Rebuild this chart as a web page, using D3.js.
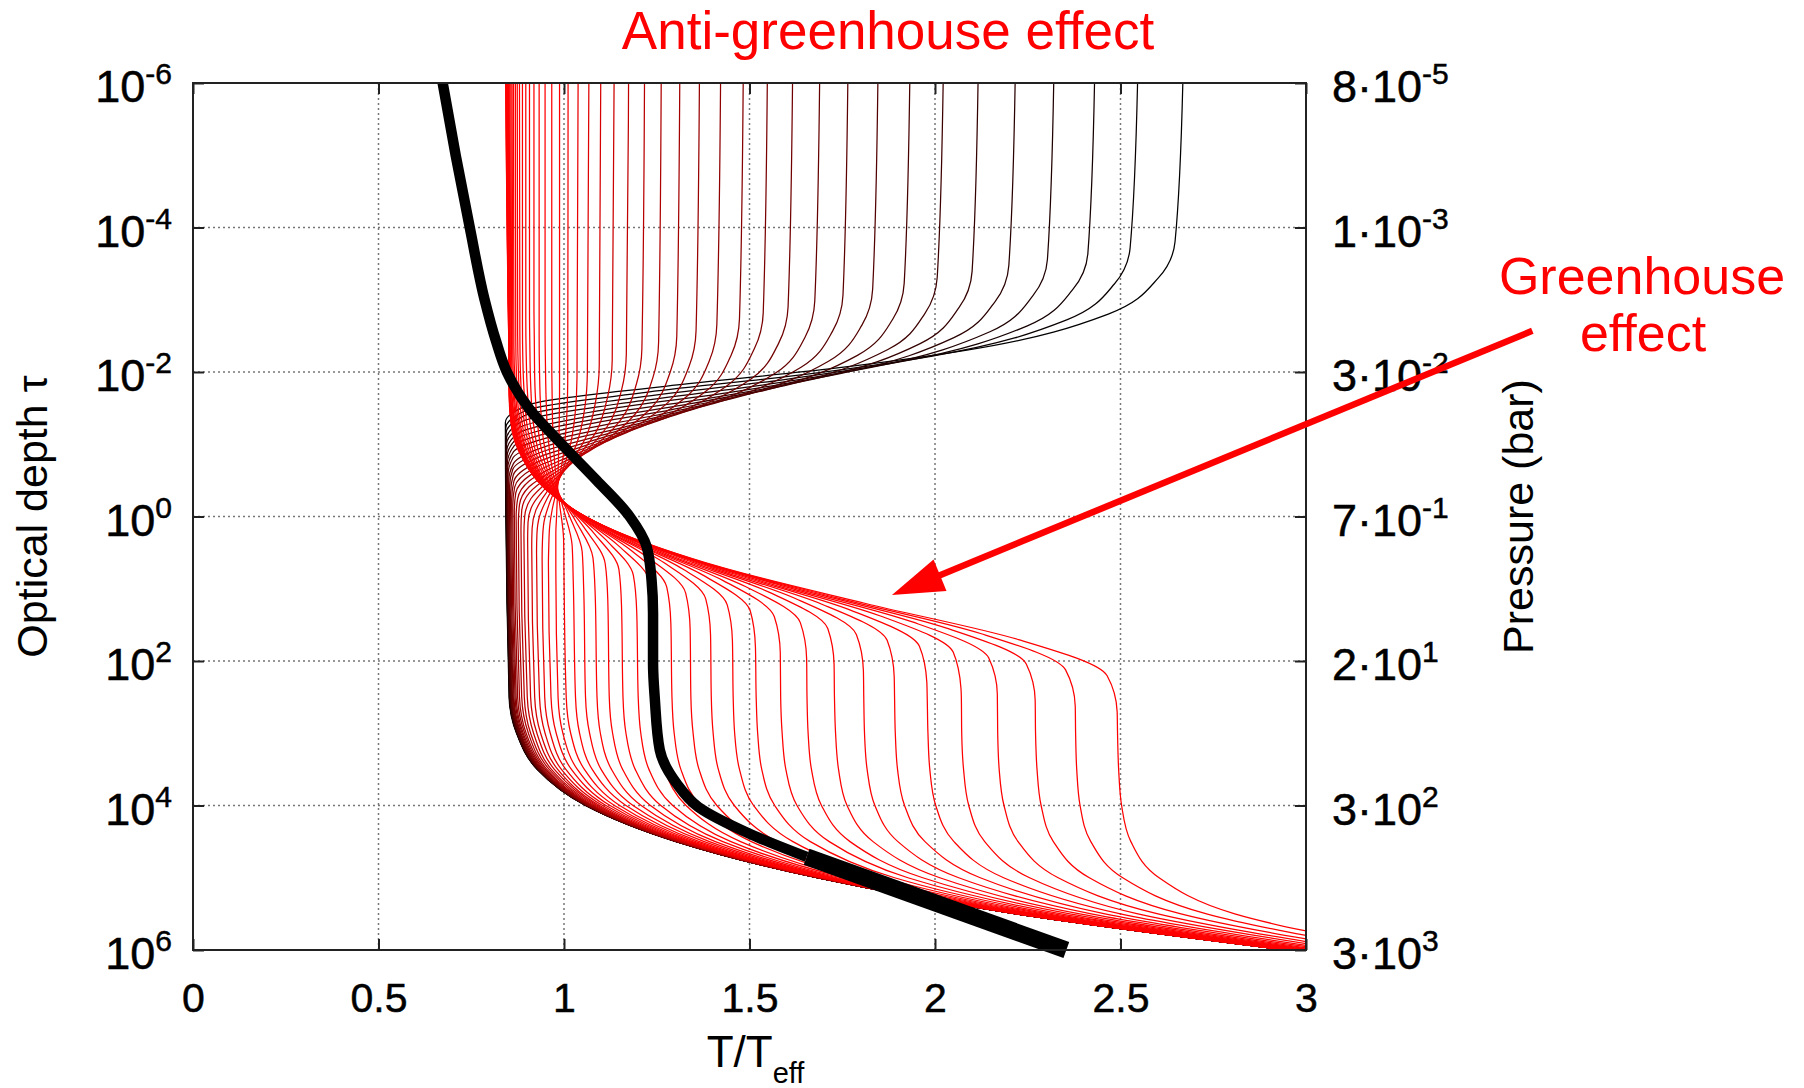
<!DOCTYPE html>
<html>
<head>
<meta charset="utf-8">
<script src="https://d3js.org/d3.v7.min.js"></script>
<style>
  body { margin: 0; background: #fff; }
  svg { display: block; }
  text { font-family: "Liberation Sans", Arial, Helvetica, sans-serif; }
</style>
</head>
<body>
<div id="chart"></div>
<script>
// T/Teff profiles versus optical depth, one thin line per opacity ratio.
// Curves 0..23 heat up at depth (greenhouse, red), 24..49 are hot on top (anti-greenhouse, dark).

// T at the top of the plot (tau = 1e-6) for each curve
var topT = [0.843, 0.843, 0.844, 0.845, 0.845, 0.846, 0.847, 0.849, 0.850, 0.852,
            0.854, 0.857, 0.860, 0.864, 0.869, 0.874, 0.880, 0.888, 0.897, 0.907,
            0.919, 0.933, 0.949, 0.967, 0.988, 1.011, 1.038, 1.067, 1.099, 1.135,
            1.174, 1.217, 1.262, 1.312, 1.365, 1.422, 1.483, 1.548, 1.616, 1.689,
            1.765, 1.846, 1.932, 2.022, 2.116, 2.216, 2.320, 2.430, 2.546, 2.668];

// log10(tau) at the middle of each curve's turn
var turnLog = [1.704, 1.623, 1.541, 1.459, 1.377, 1.296, 1.214, 1.132, 1.050, 0.969,
               0.887, 0.805, 0.723, 0.641, 0.560, 0.478, 0.396, 0.314, 0.233, 0.151,
               0.069, -0.013, -0.094, -0.176, -0.258, -0.340, -0.422, -0.503, -0.585, -0.667,
               -0.749, -0.830, -0.912, -0.994, -1.076, -1.158, -1.239, -1.321, -1.403, -1.485,
               -1.566, -1.648, -1.730, -1.812, -1.893, -1.975, -2.057, -2.139, -2.221, -2.302];

// decades from turnLog where the turn is sampled
var riseSteps = [-3, -2.5, -2, -1.5, -1, -0.5, 0, 0.5, 1];
var fallSteps = [-1.5, -1, -0.5, 0, 0.25, 0.5, 0.75, 1];

// T along the turn, red curves (rising to a hot plateau)
var riseT = [
  [0.858, 0.889, 0.969, 1.140, 1.425, 1.813, 2.225, 2.464, 2.491],
  [0.856, 0.882, 0.951, 1.104, 1.368, 1.733, 2.125, 2.352, 2.378],
  [0.855, 0.876, 0.936, 1.071, 1.314, 1.658, 2.029, 2.246, 2.270],
  [0.853, 0.872, 0.922, 1.042, 1.265, 1.588, 1.939, 2.145, 2.168],
  [0.853, 0.868, 0.911, 1.016, 1.219, 1.521, 1.853, 2.049, 2.070],
  [0.852, 0.865, 0.901, 0.993, 1.177, 1.459, 1.772, 1.958, 1.978],
  [0.852, 0.863, 0.893, 0.973, 1.139, 1.400, 1.695, 1.871, 1.890],
  [0.853, 0.861, 0.887, 0.956, 1.104, 1.345, 1.622, 1.788, 1.807],
  [0.854, 0.861, 0.882, 0.941, 1.072, 1.293, 1.554, 1.711, 1.728],
  [0.855, 0.861, 0.879, 0.928, 1.044, 1.246, 1.489, 1.637, 1.654],
  [0.857, 0.861, 0.876, 0.918, 1.019, 1.202, 1.429, 1.567, 1.583],
  [0.859, 0.863, 0.875, 0.910, 0.998, 1.163, 1.372, 1.502, 1.516],
  [0.862, 0.865, 0.875, 0.904, 0.979, 1.126, 1.319, 1.440, 1.454],
  [0.865, 0.868, 0.876, 0.901, 0.964, 1.094, 1.270, 1.382, 1.395],
  [0.870, 0.872, 0.878, 0.898, 0.952, 1.065, 1.224, 1.328, 1.340],
  [0.875, 0.877, 0.882, 0.898, 0.943, 1.040, 1.183, 1.277, 1.288],
  [0.881, 0.882, 0.887, 0.900, 0.936, 1.019, 1.145, 1.231, 1.241],
  [0.888, 0.889, 0.893, 0.903, 0.933, 1.002, 1.111, 1.187, 1.196],
  [0.897, 0.898, 0.901, 0.909, 0.932, 0.988, 1.081, 1.148, 1.155],
  [0.907, 0.908, 0.910, 0.916, 0.934, 0.979, 1.054, 1.111, 1.118],
  [0.919, 0.920, 0.921, 0.926, 0.939, 0.972, 1.032, 1.078, 1.084],
  [0.933, 0.933, 0.934, 0.937, 0.946, 0.970, 1.014, 1.049, 1.053],
  [0.949, 0.949, 0.950, 0.952, 0.957, 0.971, 0.999, 1.022, 1.025],
  [0.967, 0.967, 0.967, 0.968, 0.970, 0.976, 0.988, 0.999, 1.000]
];

// T along the turn, dark curves (falling back to the cool branch)
var fallT = [
  [0.988, 0.987, 0.985, 0.982, 0.980, 0.978, 0.978, 0.978],
  [1.010, 1.007, 0.998, 0.979, 0.968, 0.961, 0.959, 0.958],
  [1.035, 1.030, 1.014, 0.980, 0.960, 0.946, 0.942, 0.941],
  [1.063, 1.056, 1.034, 0.985, 0.955, 0.934, 0.927, 0.926],
  [1.095, 1.085, 1.058, 0.994, 0.953, 0.924, 0.914, 0.913],
  [1.130, 1.118, 1.086, 1.007, 0.955, 0.916, 0.903, 0.902],
  [1.168, 1.155, 1.117, 1.024, 0.960, 0.911, 0.894, 0.892],
  [1.210, 1.195, 1.152, 1.045, 0.968, 0.907, 0.886, 0.884],
  [1.255, 1.239, 1.191, 1.070, 0.980, 0.906, 0.880, 0.877],
  [1.304, 1.286, 1.234, 1.098, 0.995, 0.907, 0.875, 0.871],
  [1.356, 1.337, 1.280, 1.131, 1.013, 0.910, 0.870, 0.866],
  [1.412, 1.392, 1.330, 1.167, 1.036, 0.915, 0.867, 0.862],
  [1.473, 1.451, 1.384, 1.207, 1.061, 0.923, 0.865, 0.859],
  [1.537, 1.513, 1.442, 1.251, 1.091, 0.932, 0.863, 0.856],
  [1.604, 1.579, 1.504, 1.299, 1.123, 0.945, 0.862, 0.853],
  [1.676, 1.650, 1.570, 1.350, 1.160, 0.959, 0.864, 0.851],
  [1.752, 1.724, 1.639, 1.405, 1.200, 0.977, 0.863, 0.849],
  [1.832, 1.803, 1.713, 1.465, 1.244, 0.997, 0.864, 0.848],
  [1.917, 1.886, 1.791, 1.528, 1.291, 1.020, 0.866, 0.847],
  [2.006, 1.973, 1.873, 1.595, 1.342, 1.046, 0.869, 0.846],
  [2.100, 2.065, 1.960, 1.666, 1.397, 1.075, 0.873, 0.845],
  [2.199, 2.162, 2.051, 1.741, 1.456, 1.108, 0.878, 0.844],
  [2.303, 2.264, 2.148, 1.821, 1.519, 1.144, 0.884, 0.844],
  [2.412, 2.371, 2.249, 1.905, 1.585, 1.183, 0.891, 0.843],
  [2.526, 2.484, 2.355, 1.993, 1.656, 1.226, 0.899, 0.843],
  [2.647, 2.602, 2.467, 2.086, 1.731, 1.273, 0.910, 0.842]
];

// deep part, all curves
var deepLog = [2.5, 3, 3.5, 4, 4.5, 5, 5.5, 6];
var deepT = [
  [2.491, 2.492, 2.495, 2.503, 2.528, 2.604, 2.808, 3.264],
  [2.378, 2.379, 2.382, 2.391, 2.420, 2.506, 2.732, 3.216],
  [2.270, 2.271, 2.275, 2.286, 2.319, 2.416, 2.663, 3.174],
  [2.168, 2.169, 2.173, 2.186, 2.224, 2.332, 2.601, 3.139],
  [2.071, 2.072, 2.077, 2.091, 2.134, 2.255, 2.547, 3.109],
  [1.979, 1.981, 1.986, 2.002, 2.051, 2.185, 2.500, 3.083],
  [1.891, 1.893, 1.899, 1.918, 1.973, 2.122, 2.458, 3.061],
  [1.808, 1.810, 1.817, 1.838, 1.900, 2.064, 2.421, 3.042],
  [1.729, 1.732, 1.740, 1.763, 1.833, 2.013, 2.390, 3.027],
  [1.655, 1.658, 1.667, 1.694, 1.771, 1.967, 2.363, 3.014],
  [1.584, 1.588, 1.598, 1.628, 1.715, 1.927, 2.340, 3.003],
  [1.518, 1.522, 1.533, 1.568, 1.664, 1.891, 2.321, 2.993],
  [1.456, 1.460, 1.473, 1.511, 1.617, 1.860, 2.304, 2.986],
  [1.397, 1.402, 1.416, 1.459, 1.575, 1.833, 2.290, 2.979],
  [1.342, 1.348, 1.364, 1.412, 1.538, 1.810, 2.278, 2.974],
  [1.291, 1.297, 1.315, 1.368, 1.505, 1.790, 2.268, 2.970],
  [1.244, 1.250, 1.270, 1.329, 1.476, 1.772, 2.260, 2.966],
  [1.200, 1.207, 1.229, 1.293, 1.450, 1.758, 2.253, 2.963],
  [1.159, 1.167, 1.192, 1.261, 1.428, 1.746, 2.247, 2.960],
  [1.122, 1.131, 1.158, 1.233, 1.408, 1.735, 2.242, 2.958],
  [1.089, 1.098, 1.128, 1.208, 1.392, 1.726, 2.238, 2.956],
  [1.058, 1.069, 1.100, 1.186, 1.378, 1.719, 2.235, 2.955],
  [1.031, 1.042, 1.076, 1.167, 1.365, 1.713, 2.232, 2.954],
  [1.006, 1.018, 1.055, 1.150, 1.355, 1.708, 2.230, 2.953],
  [0.984, 0.997, 1.036, 1.136, 1.346, 1.703, 2.228, 2.952],
  [0.965, 0.979, 1.020, 1.124, 1.339, 1.700, 2.226, 2.951],
  [0.948, 0.963, 1.005, 1.113, 1.333, 1.697, 2.225, 2.951],
  [0.934, 0.949, 0.993, 1.104, 1.328, 1.694, 2.224, 2.950],
  [0.921, 0.937, 0.983, 1.096, 1.323, 1.692, 2.223, 2.950],
  [0.910, 0.927, 0.974, 1.090, 1.320, 1.690, 2.222, 2.949],
  [0.901, 0.918, 0.966, 1.085, 1.317, 1.689, 2.222, 2.949],
  [0.893, 0.910, 0.960, 1.080, 1.314, 1.688, 2.221, 2.949],
  [0.886, 0.904, 0.954, 1.076, 1.312, 1.687, 2.221, 2.949],
  [0.880, 0.898, 0.950, 1.073, 1.310, 1.686, 2.220, 2.949],
  [0.875, 0.894, 0.946, 1.071, 1.309, 1.685, 2.220, 2.948],
  [0.871, 0.890, 0.943, 1.068, 1.308, 1.685, 2.220, 2.948],
  [0.868, 0.887, 0.940, 1.066, 1.307, 1.684, 2.219, 2.948],
  [0.865, 0.884, 0.938, 1.065, 1.306, 1.684, 2.219, 2.948],
  [0.863, 0.882, 0.936, 1.064, 1.305, 1.683, 2.219, 2.948],
  [0.861, 0.880, 0.934, 1.063, 1.305, 1.683, 2.219, 2.948],
  [0.859, 0.878, 0.933, 1.062, 1.304, 1.683, 2.219, 2.948],
  [0.858, 0.877, 0.932, 1.061, 1.304, 1.683, 2.219, 2.948],
  [0.857, 0.876, 0.931, 1.060, 1.303, 1.683, 2.219, 2.948],
  [0.856, 0.875, 0.930, 1.060, 1.303, 1.683, 2.219, 2.948],
  [0.855, 0.874, 0.930, 1.059, 1.303, 1.683, 2.219, 2.948],
  [0.854, 0.874, 0.929, 1.059, 1.303, 1.682, 2.219, 2.948],
  [0.854, 0.873, 0.929, 1.059, 1.303, 1.682, 2.219, 2.948],
  [0.853, 0.873, 0.928, 1.059, 1.303, 1.682, 2.219, 2.948],
  [0.853, 0.873, 0.928, 1.059, 1.303, 1.682, 2.219, 2.948],
  [0.852, 0.872, 0.928, 1.058, 1.303, 1.682, 2.219, 2.948]
];

// the thick reference profile: [log10 tau, T]
var refProfile = [[-6, 0.673], [-5, 0.708], [-4, 0.746], [-3, 0.786], [-2.44, 0.816],
                  [-2, 0.846], [-1.5, 0.905], [-1, 0.994], [-0.5, 1.088], [0, 1.177],
                  [0.42, 1.223], [0.88, 1.236], [1.34, 1.240], [2.03, 1.240], [2.54, 1.245],
                  [3.23, 1.258], [3.69, 1.303], [4.02, 1.362], [4.39, 1.500], [4.71, 1.654]];
var refDeep = [[4.71, 1.654], [6, 2.354]];

// axes
var xTicks = [0, 0.5, 1, 1.5, 2, 2.5, 3];
var tauExp = [-6, -4, -2, 0, 2, 4, 6];
var pressMant = ["8", "1", "3", "7", "2", "3", "3"];
var pressExp = ["-5", "-3", "-2", "-1", "1", "2", "3"];

// annotation arrow, data coords [T, log10 tau]
var arrowFrom = [3.61, -2.57],
    arrowTo = [1.884, 1.087];

var w = 1804, h = 1088;
var margin = {top: 83, right: 498, bottom: 138, left: 193};
var width = w - margin.left - margin.right,
    height = h - margin.top - margin.bottom;

var svg = d3.select("#chart").append("svg")
    .attr("width", w)
    .attr("height", h)
    .style("background-color", "white");

var x = d3.scaleLinear().domain([0, 3]).range([margin.left, margin.left + width]);
var y = d3.scaleLog().domain([1e-6, 1e6]).range([margin.top, margin.top + height]);

svg.append("clipPath").attr("id", "plotclip")
  .append("rect")
    .attr("x", margin.left).attr("y", margin.top)
    .attr("width", width).attr("height", height);

// grid
var grid = svg.append("g")
    .attr("stroke", "#777")
    .attr("stroke-width", 1.5)
    .attr("stroke-dasharray", "2,3");
xTicks.slice(1, -1).forEach(function(t) {
    grid.append("line")
        .attr("x1", x(t)).attr("x2", x(t))
        .attr("y1", margin.top).attr("y2", margin.top + height);
});
tauExp.slice(1, -1).forEach(function(e) {
    grid.append("line")
        .attr("x1", margin.left).attr("x2", margin.left + width)
        .attr("y1", y(Math.pow(10, e))).attr("y2", y(Math.pow(10, e)));
});

// thin curves
function curvePoints(i) {
    var pts = [[-6, topT[i]]];
    var red = i < riseT.length;
    var steps = red ? riseSteps : fallSteps;
    var vals = red ? riseT[i] : fallT[i - riseT.length];
    steps.forEach(function(s, k) { pts.push([turnLog[i] + s, vals[k]]); });
    var last = pts[pts.length - 1][0];
    deepLog.forEach(function(l, k) {
        if (l > last + 0.05) pts.push([l, deepT[i][k]]);
    });
    return pts;
}

function lineColor(i) {
    if (i <= 24) return "#ff0000";
    return d3.interpolateRgb("#ff0000", "#000000")((i - 24) / 25);
}

var line = d3.line()
    .x(function(d) { return x(d[1]); })
    .y(function(d) { return y(Math.pow(10, d[0])); })
    .curve(d3.curveMonotoneY);

var curves = svg.append("g").attr("clip-path", "url(#plotclip)");
for (var i = topT.length - 1; i >= 0; i--) {
    curves.append("path")
        .attr("d", line(curvePoints(i)))
        .attr("fill", "none")
        .attr("stroke", lineColor(i))
        .attr("stroke-width", 1.25);
}

// thick profile
svg.append("path")
    .attr("d", line(refProfile))
    .attr("fill", "none")
    .attr("stroke", "black")
    .attr("stroke-width", 10.5)
    .attr("stroke-linejoin", "round");
svg.append("path")
    .attr("d", d3.line().x(function(d) { return x(d[1]); })
                        .y(function(d) { return y(Math.pow(10, d[0])); })(refDeep))
    .attr("fill", "none")
    .attr("stroke", "black")
    .attr("stroke-width", 17);

// axes (ticks inward)
function styleAxis(g) {
    g.select(".domain").remove();
    g.selectAll(".tick line").attr("stroke", "#222").attr("stroke-width", 2);
}
svg.append("g").attr("transform", "translate(0," + (margin.top + height) + ")")
    .call(d3.axisBottom(x).tickValues(xTicks).tickSizeInner(-11).tickSizeOuter(0)
        .tickPadding(33).tickFormat(d3.format("")))
    .call(styleAxis)
    .selectAll("text")
        .style("font-size", "41px")
        .style("font-family", "'Liberation Sans', Arial, sans-serif")
        .attr("fill", "black")
        .attr("stroke", "black")
        .attr("stroke-width", 0.5);
svg.append("g").attr("transform", "translate(0," + margin.top + ")")
    .call(d3.axisTop(x).tickValues(xTicks).tickSizeInner(-11).tickSizeOuter(0).tickFormat(""))
    .call(styleAxis);
var tauTicks = tauExp.map(function(e) { return Math.pow(10, e); });
svg.append("g").attr("transform", "translate(" + margin.left + ",0)")
    .call(d3.axisLeft(y).tickValues(tauTicks).tickSizeInner(-11).tickSizeOuter(0).tickFormat(""))
    .call(styleAxis);
svg.append("g").attr("transform", "translate(" + (margin.left + width) + ",0)")
    .call(d3.axisRight(y).tickValues(tauTicks).tickSizeInner(-11).tickSizeOuter(0).tickFormat(""))
    .call(styleAxis);

svg.append("rect")
    .attr("x", margin.left).attr("y", margin.top)
    .attr("width", width).attr("height", height)
    .attr("fill", "none")
    .attr("stroke", "#222")
    .attr("stroke-width", 2);

// left labels 10^n
tauExp.forEach(function(e) {
    var t = svg.append("text")
        .attr("x", margin.left - 21)
        .attr("y", y(Math.pow(10, e)) + 19)
        .attr("text-anchor", "end")
        .attr("stroke", "black")
        .attr("stroke-width", 0.5)
        .style("font-size", "45px");
    t.append("tspan").text("10");
    t.append("tspan").attr("dy", -18).style("font-size", "30px").text(e);
});

// right labels, pressure
tauExp.forEach(function(e, k) {
    var t = svg.append("text")
        .attr("x", margin.left + width + 26)
        .attr("y", y(Math.pow(10, e)) + 19)
        .attr("text-anchor", "start")
        .attr("stroke", "black")
        .attr("stroke-width", 0.5)
        .style("font-size", "45px");
    t.append("tspan").text(pressMant[k] + "\u00b710");
    t.append("tspan").attr("dy", -18).style("font-size", "30px").text(pressExp[k]);
});

// axis titles
var xt = svg.append("text")
    .attr("x", (margin.left + margin.left + width) / 2 + 6)
    .attr("y", 1067)
    .attr("text-anchor", "middle")
    .style("font-size", "44px");
xt.append("tspan").text("T/T");
xt.append("tspan").attr("dy", 16).style("font-size", "29px").text("eff");

svg.append("text")
    .attr("transform", "translate(47," + (margin.top + height / 2) + ") rotate(-90)")
    .attr("text-anchor", "middle")
    .style("font-size", "43px")
    .text("Optical depth \u03c4");

svg.append("text")
    .attr("transform", "translate(1533," + (margin.top + height / 2) + ") rotate(-90)")
    .attr("text-anchor", "middle")
    .style("font-size", "43px")
    .text("Pressure (bar)");

// annotations
svg.append("text")
    .attr("x", 888).attr("y", 49)
    .attr("text-anchor", "middle")
    .attr("fill", "#ff0000")
    .style("font-size", "53px")
    .text("Anti-greenhouse effect");

svg.append("text")
    .attr("x", 1642).attr("y", 294)
    .attr("text-anchor", "middle")
    .attr("fill", "#ff0000")
    .style("font-size", "52px")
    .text("Greenhouse");
svg.append("text")
    .attr("x", 1643).attr("y", 351)
    .attr("text-anchor", "middle")
    .attr("fill", "#ff0000")
    .style("font-size", "52px")
    .text("effect");

var ax0 = x(arrowFrom[0]), ay0 = y(Math.pow(10, arrowFrom[1])),
    ax1 = x(arrowTo[0]), ay1 = y(Math.pow(10, arrowTo[1]));
var len = Math.hypot(ax1 - ax0, ay1 - ay0),
    ux = (ax1 - ax0) / len, uy = (ay1 - ay0) / len,
    headL = 52, headW = 17;
var bx = ax1 - ux * headL, by = ay1 - uy * headL;
svg.append("line")
    .attr("x1", ax0).attr("y1", ay0)
    .attr("x2", bx + ux * 4).attr("y2", by + uy * 4)
    .attr("stroke", "#ff0000")
    .attr("stroke-width", 6.5);
svg.append("polygon")
    .attr("points", [[ax1, ay1], [bx - uy * headW, by + ux * headW], [bx + uy * headW, by - ux * headW]]
        .map(function(p) { return p.join(","); }).join(" "))
    .attr("fill", "#ff0000");
</script>
</body>
</html>
